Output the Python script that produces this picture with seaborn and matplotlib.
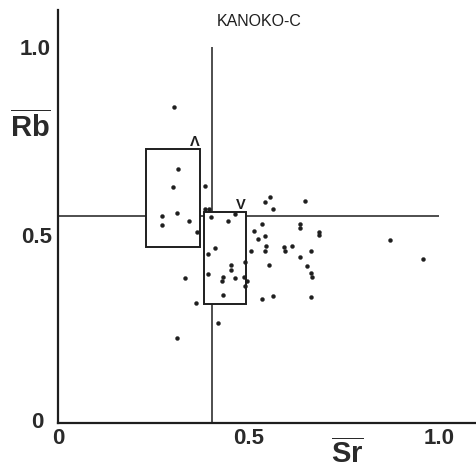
import matplotlib
matplotlib.use("Agg")
import matplotlib.pyplot as plt
from matplotlib.patches import Rectangle
import pandas as pd
import seaborn as sns

# Normalised Sr and Rb for the KANOKO-C samples
sr = [0.304, 0.314, 0.302, 0.386, 0.272, 0.313, 0.272, 0.345, 0.364, 0.385,
      0.396, 0.402, 0.412, 0.395, 0.334, 0.394, 0.361, 0.420, 0.312, 0.465,
      0.446, 0.557, 0.543, 0.565, 0.535, 0.514, 0.526, 0.543, 0.506, 0.545,
      0.544, 0.492, 0.453, 0.453, 0.555, 0.434, 0.430, 0.465, 0.489, 0.495,
      0.490, 0.434, 0.535, 0.564, 0.648, 0.634, 0.634, 0.686, 0.685, 0.593,
      0.597, 0.614, 0.663, 0.634, 0.653, 0.664, 0.667, 0.663, 0.872, 0.959]
rb = [0.841, 0.676, 0.628, 0.629, 0.550, 0.559, 0.527, 0.537, 0.508, 0.568,
      0.569, 0.547, 0.466, 0.450, 0.386, 0.396, 0.319, 0.266, 0.227, 0.556,
      0.537, 0.600, 0.587, 0.569, 0.528, 0.511, 0.490, 0.497, 0.458, 0.470,
      0.457, 0.429, 0.419, 0.407, 0.419, 0.389, 0.377, 0.386, 0.388, 0.378,
      0.365, 0.340, 0.329, 0.338, 0.590, 0.529, 0.518, 0.509, 0.500, 0.467,
      0.457, 0.470, 0.457, 0.441, 0.418, 0.400, 0.388, 0.335, 0.486, 0.437]

# Range boxes of the two groups
box_sr_low = [0.232, 0.382]
box_sr_high = [0.373, 0.493]
box_rb_low = [0.468, 0.317]
box_rb_high = [0.730, 0.562]
box_marks = ["Λ", "V"]

# Reference cross lines
ref_sr = 0.403
ref_rb = 0.55
ref_extent = 1.0

x_major = [0.0, 1.0]
x_major_labels = ["0", "1.0"]
x_minor = [0.5]
x_minor_labels = ["0.5"]
y_major = [1.0]
y_major_labels = ["1.0"]
y_minor = [0.5]
y_minor_labels = ["0.5"]
y_origin_label = "0"
title = "KANOKO-C"

sns.set_style("white")
plt.rcParams["font.family"] = ["Liberation Sans", "DejaVu Sans"]
plt.rcParams["mathtext.fontset"] = "custom"
plt.rcParams["mathtext.rm"] = "Liberation Sans"
plt.rcParams["mathtext.bf"] = "Liberation Sans:bold"

ink = "#1e1e1e"
label_ink = "#2a2a2a"
W, H = 476, 471
fig = plt.figure(figsize=(W / 100, H / 100), dpi=100)
ax = fig.add_axes([58 / W, 48 / H, 418 / W, 413 / H])
ax.set_xlim(0, 418 / 381)
ax.set_ylim(0, 413 / 376)

df = pd.DataFrame({"Sr": sr, "Rb": rb})

ax.hlines(ref_rb, 0, ref_extent, color=ink, lw=1.1, zorder=2)
ax.vlines(ref_sr, 0, ref_extent, color=ink, lw=1.1, zorder=2)

for x0, x1, y0, y1, mark in zip(box_sr_low, box_sr_high, box_rb_low, box_rb_high, box_marks):
    ax.add_patch(Rectangle((x0, y0), x1 - x0, y1 - y0, facecolor="white",
                           edgecolor=ink, lw=1.4, zorder=3))
    ax.text(x1, y1, mark, ha="right", va="bottom", fontsize=10.5, color=ink,
            fontweight="bold", zorder=5)

sns.scatterplot(data=df, x="Sr", y="Rb", ax=ax, color=ink, s=8,
                edgecolor=ink, linewidth=0.3, zorder=4, legend=False)

for side in ("top", "right"):
    ax.spines[side].set_visible(False)
for side in ("left", "bottom"):
    ax.spines[side].set_color(ink)
    ax.spines[side].set_linewidth(1.6)

ax.set_xticks(x_major, x_major_labels)
ax.set_xticks(x_minor, x_minor_labels, minor=True)
ax.set_yticks(y_major, y_major_labels)
ax.set_yticks(y_minor, y_minor_labels, minor=True)
ax.tick_params(axis="both", which="both", direction="in", colors=ink,
               labelcolor=label_ink, labelsize=16, width=1.2)
ax.tick_params(axis="x", which="major", length=12.2, pad=3.5)
ax.tick_params(axis="x", which="minor", length=4.3, pad=3.5)
ax.tick_params(axis="y", which="major", length=13.7, pad=5.5)
ax.tick_params(axis="y", which="minor", length=5, pad=4)
for lab in ax.get_xticklabels(which="both") + ax.get_yticklabels(which="both"):
    lab.set_fontweight("bold")
ax.text(-15 / 381, 0, y_origin_label, ha="right", va="center", fontsize=16,
        fontweight="bold", color=label_ink)

ax.set_xlabel("")
ax.set_ylabel("")
fig.text(30 / W, 1 - 127 / H, r"$\overline{\mathbf{Rb}}$", ha="center",
         va="center", fontsize=21, color=label_ink)
fig.text(347 / W, 1 - 454 / H, r"$\overline{\mathbf{Sr}}$", ha="center",
         va="center", fontsize=21, color=label_ink)
fig.text(259 / W, 1 - 22 / H, title, ha="center", va="center", fontsize=11.5,
         color=ink)

fig.savefig("out.png", dpi=100)
